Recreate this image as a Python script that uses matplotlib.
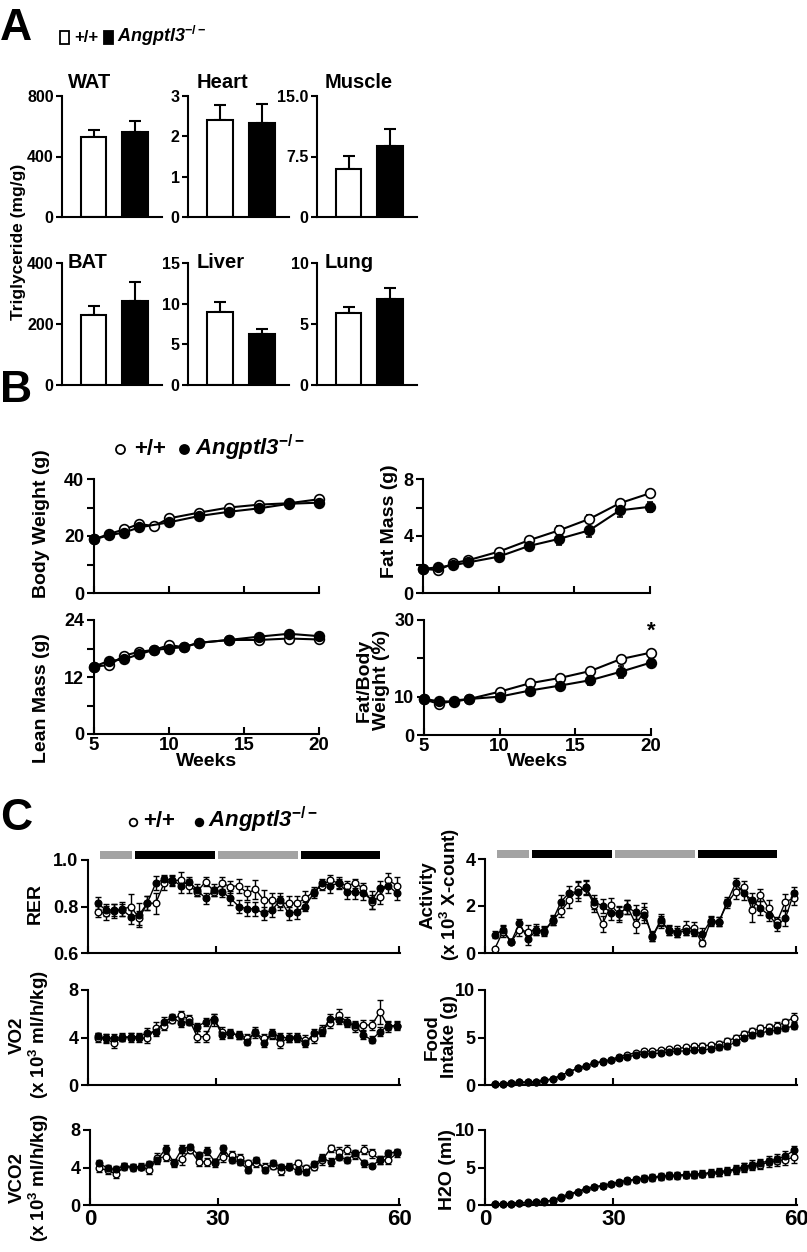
import matplotlib
matplotlib.use('Agg')
import matplotlib.pyplot as plt
from matplotlib.lines import Line2D
from matplotlib.patches import Rectangle
import numpy as np

plt.rcParams['font.family'] = ['Liberation Sans', 'DejaVu Sans']
plt.rcParams['font.weight'] = 'bold'
plt.rcParams['mathtext.fontset'] = 'custom'
plt.rcParams['mathtext.rm'] = 'Liberation Sans:bold'
plt.rcParams['mathtext.it'] = 'Liberation Sans:italic:bold'
plt.rcParams['mathtext.bf'] = 'Liberation Sans:bold'
plt.rcParams['axes.linewidth'] = 1.5

# ---------------- panel A : tissue triglyceride ----------------
tissues = ['WAT', 'Heart', 'Muscle', 'BAT', 'Liver', 'Lung']
tg_wt = [530, 2.40, 5.95, 230, 8.95, 5.9]
tg_wt_err = [45, 0.38, 1.6, 30, 1.3, 0.5]
tg_ko = [560, 2.33, 8.8, 277, 6.25, 7.05]
tg_ko_err = [73, 0.48, 2.1, 62, 0.6, 0.9]
tg_ymax = [800, 3, 15.0, 400, 15, 10]
tg_ticks = [[0, 400, 800], [0, 1, 2, 3], [0, 7.5, 15.0], [0, 200, 400], [0, 5, 10, 15], [0, 5, 10]]
tg_ticklabels = [['0', '400', '800'], ['0', '1', '2', '3'], ['0', '7.5', '15.0'],
                 ['0', '200', '400'], ['0', '5', '10', '15'], ['0', '5', '10']]

# ---------------- panel B : growth curves ----------------
bw_wk_wt = [5, 6, 7, 8, 9, 10, 12, 14, 16, 18, 20]
bw_wt = [18.8, 20.7, 22.3, 24.2, 23.5, 26.2, 28.2, 30.0, 31.0, 31.5, 32.9]
bw_wk_ko = [5, 6, 7, 8, 10, 12, 14, 16, 18, 20]
bw_ko = [18.8, 20.3, 21.2, 23.0, 24.8, 27.0, 28.5, 29.7, 31.3, 31.7]

lean_wk = [5, 6, 7, 8, 9, 10, 11, 12, 14, 16, 18, 20]
lean_wt = [14.2, 14.5, 16.5, 17.3, 17.7, 18.7, 18.3, 19.2, 19.8, 19.8, 20.1, 19.9]
lean_ko = [14.2, 15.4, 15.7, 16.8, 17.7, 18.0, 18.3, 19.2, 19.8, 20.5, 21.1, 20.6]

fat_wk = [5, 6, 7, 8, 10, 12, 14, 16, 18, 20]
fat_wt = [1.7, 1.6, 2.1, 2.3, 2.9, 3.7, 4.4, 5.2, 6.3, 7.0]
fat_wt_err = [0.05, 0.1, 0.1, 0.1, 0.1, 0.15, 0.3, 0.3, 0.2, 0.2]
fat_ko = [1.7, 1.8, 1.95, 2.15, 2.55, 3.3, 3.8, 4.4, 5.8, 6.05]
fat_ko_err = [0.05, 0.1, 0.1, 0.1, 0.15, 0.3, 0.45, 0.5, 0.45, 0.35]

pct_wt = [9.3, 8.1, 9.0, 9.4, 11.3, 13.5, 14.9, 16.7, 19.8, 21.5]
pct_wt_err = [0.2, 0.3, 0.3, 0.3, 0.4, 0.4, 0.6, 0.6, 0.4, 0.4]
pct_ko = [9.4, 8.8, 8.7, 9.4, 10.0, 11.6, 12.9, 14.3, 16.5, 18.9]
pct_ko_err = [0.3, 0.3, 0.3, 0.3, 0.4, 0.7, 0.8, 1.2, 1.5, 0.8]

# ---------------- panel C : metabolic cages ----------------
rer_wt = [0.778, 0.771, 0.78, 0.788, 0.80, 0.75, 0.814, 0.814, 0.90, 0.91, 0.914, 0.89, 0.864,
          0.907, 0.864, 0.90, 0.885, 0.89, 0.857, 0.874, 0.828, 0.828, 0.814, 0.814, 0.814,
          0.835, 0.864, 0.89, 0.914, 0.90, 0.89, 0.90, 0.878, 0.82, 0.842, 0.914, 0.89]
rer_wt_err = [0.025, 0.03, 0.03, 0.03, 0.055, 0.03, 0.03, 0.045, 0.03, 0.02, 0.035, 0.03, 0.02,
              0.02, 0.02, 0.025, 0.025, 0.03, 0.03, 0.04, 0.045, 0.03, 0.03, 0.03, 0.03, 0.03,
              0.02, 0.02, 0.02, 0.02, 0.02, 0.02, 0.025, 0.03, 0.03, 0.03, 0.035]
rer_ko = [0.814, 0.785, 0.785, 0.785, 0.756, 0.763, 0.816, 0.90, 0.917, 0.914, 0.89, 0.907, 0.87,
          0.835, 0.87, 0.864, 0.835, 0.80, 0.79, 0.79, 0.77, 0.785, 0.828, 0.77, 0.778, 0.80,
          0.857, 0.90, 0.89, 0.90, 0.864, 0.864, 0.857, 0.828, 0.878, 0.89, 0.857]
rer_ko_err = [0.025, 0.025, 0.025, 0.025, 0.03, 0.05, 0.03, 0.03, 0.02, 0.02, 0.03, 0.02, 0.025,
              0.025, 0.025, 0.025, 0.03, 0.03, 0.03, 0.03, 0.03, 0.03, 0.03, 0.03, 0.03, 0.02,
              0.02, 0.02, 0.03, 0.025, 0.03, 0.03, 0.03, 0.04, 0.03, 0.03, 0.03]

act_wt = [0.16, 0.91, 0.48, 0.98, 0.91, 1.0, 0.91, 1.38, 1.79, 2.25, 2.71, 2.75, 2.04, 1.23,
          2.04, 1.64, 1.97, 1.23, 1.76, 0.69, 1.33, 0.98, 0.91, 1.05, 1.05, 0.41, 1.33, 1.33,
          2.11, 2.61, 2.82, 1.83, 2.47, 1.90, 1.33, 2.18, 2.33]
act_wt_err = [0.05, 0.25, 0.1, 0.25, 0.3, 0.25, 0.2, 0.2, 0.25, 0.35, 0.35, 0.3, 0.3, 0.35,
              0.3, 0.3, 0.3, 0.4, 0.35, 0.2, 0.25, 0.2, 0.25, 0.3, 0.25, 0.1, 0.2, 0.2, 0.2,
              0.3, 0.25, 0.5, 0.25, 0.35, 0.2, 0.35, 0.3]
act_ko = [0.77, 0.98, 0.48, 1.26, 0.58, 0.95, 0.95, 1.40, 2.18, 2.57, 2.61, 2.79, 2.18, 2.0,
          1.72, 1.69, 1.94, 1.73, 1.62, 0.72, 1.40, 0.95, 0.86, 0.95, 0.91, 0.81, 1.38, 1.33,
          2.18, 2.96, 2.54, 2.25, 1.90, 1.62, 1.19, 1.47, 2.54]
act_ko_err = [0.15, 0.2, 0.1, 0.2, 0.25, 0.2, 0.2, 0.2, 0.3, 0.3, 0.4, 0.3, 0.3, 0.3, 0.3, 0.3,
              0.3, 0.3, 0.35, 0.2, 0.25, 0.2, 0.2, 0.2, 0.2, 0.25, 0.2, 0.2, 0.2, 0.25, 0.3,
              0.3, 0.3, 0.25, 0.25, 0.3, 0.25]

vo2_wt = [4.0, 3.93, 3.5, 4.05, 4.0, 3.93, 3.93, 4.8, 5.0, 5.5, 5.9, 5.53, 4.07, 4.07, 5.5, 4.5,
          4.35, 4.2, 3.93, 4.35, 3.93, 4.2, 3.5, 4.0, 4.07, 3.8, 3.93, 4.63, 5.2, 5.9, 5.33, 4.9,
          5.05, 5.05, 6.17, 4.9, 5.0]
vo2_wt_err = [0.35, 0.4, 0.4, 0.35, 0.35, 0.35, 0.4, 0.5, 0.4, 0.3, 0.35, 0.35, 0.45, 0.45, 0.5,
              0.4, 0.35, 0.35, 0.4, 0.4, 0.35, 0.35, 0.4, 0.35, 0.35, 0.4, 0.4, 0.45, 0.4, 0.5,
              0.4, 0.4, 0.4, 0.4, 1.0, 0.4, 0.4]
vo2_ko = [4.1, 3.93, 3.93, 4.0, 4.07, 4.07, 4.4, 4.5, 5.33, 5.7, 5.25, 5.33, 4.9, 5.33, 5.6, 4.2,
          4.35, 4.2, 3.65, 4.5, 3.5, 4.35, 4.07, 3.93, 3.93, 3.5, 4.35, 4.5, 5.6, 5.47, 5.2,
          5.05, 4.2, 3.8, 4.5, 5.0, 5.0]
vo2_ko_err = [0.3, 0.35, 0.35, 0.3, 0.3, 0.3, 0.4, 0.4, 0.4, 0.3, 0.4, 0.3, 0.35, 0.35, 0.35,
              0.35, 0.3, 0.3, 0.3, 0.35, 0.3, 0.35, 0.3, 0.3, 0.3, 0.3, 0.35, 0.4, 0.4, 0.35,
              0.3, 0.3, 0.35, 0.3, 0.4, 0.35, 0.3]

food_wt = [0.1, 0.15, 0.2, 0.3, 0.3, 0.35, 0.5, 0.65, 1.0, 1.4, 1.75, 2.0, 2.3, 2.5, 2.65, 3.0,
           3.2, 3.4, 3.55, 3.6, 3.7, 3.8, 3.85, 3.95, 4.1, 4.15, 4.2, 4.35, 4.6, 5.0, 5.4, 5.7,
           5.95, 6.1, 6.25, 6.6, 7.1]
food_wt_err = [0.02, 0.03, 0.04, 0.05, 0.05, 0.05, 0.06, 0.08, 0.1, 0.1, 0.12, 0.12, 0.15, 0.15,
               0.15, 0.18, 0.2, 0.2, 0.2, 0.2, 0.22, 0.22, 0.22, 0.25, 0.25, 0.25, 0.25, 0.28,
               0.3, 0.3, 0.3, 0.32, 0.35, 0.35, 0.38, 0.4, 0.45]
food_ko = [0.1, 0.15, 0.2, 0.3, 0.3, 0.35, 0.5, 0.65, 1.0, 1.4, 1.75, 2.0, 2.3, 2.45, 2.6, 2.8,
           2.95, 3.15, 3.25, 3.3, 3.35, 3.5, 3.55, 3.6, 3.65, 3.7, 3.8, 3.95, 4.1, 4.5, 5.0,
           5.3, 5.5, 5.65, 5.8, 6.0, 6.2]
food_ko_err = [0.02, 0.03, 0.04, 0.05, 0.05, 0.05, 0.06, 0.08, 0.1, 0.1, 0.12, 0.12, 0.15, 0.15,
               0.15, 0.15, 0.18, 0.18, 0.2, 0.2, 0.2, 0.2, 0.22, 0.22, 0.22, 0.25, 0.25, 0.25,
               0.28, 0.3, 0.3, 0.3, 0.3, 0.32, 0.32, 0.35, 0.35]

h2o_wt = [0.1, 0.15, 0.2, 0.3, 0.3, 0.35, 0.45, 0.6, 0.9, 1.3, 1.7, 2.1, 2.4, 2.6, 2.8, 3.0, 3.2,
          3.4, 3.5, 3.65, 3.75, 3.85, 3.9, 4.0, 4.05, 4.15, 4.25, 4.35, 4.5, 4.7, 5.0, 5.2, 5.4,
          5.7, 5.9, 6.0, 6.4]
h2o_wt_err = [0.05, 0.05, 0.08, 0.1, 0.1, 0.1, 0.12, 0.15, 0.15, 0.2, 0.2, 0.25, 0.25, 0.3, 0.3,
              0.3, 0.35, 0.35, 0.35, 0.4, 0.4, 0.4, 0.4, 0.45, 0.45, 0.45, 0.45, 0.5, 0.5, 0.5,
              0.55, 0.55, 0.6, 0.6, 0.65, 0.7, 0.8]
h2o_ko = [0.1, 0.15, 0.2, 0.3, 0.35, 0.4, 0.5, 0.65, 1.1, 1.5, 1.8, 2.2, 2.4, 2.6, 2.8, 3.1, 3.3,
          3.45, 3.6, 3.75, 3.85, 3.95, 4.0, 4.05, 4.1, 4.2, 4.3, 4.4, 4.6, 4.8, 5.1, 5.4, 5.6,
          5.9, 6.1, 6.5, 7.3]
h2o_ko_err = [0.05, 0.05, 0.08, 0.1, 0.1, 0.1, 0.12, 0.15, 0.15, 0.2, 0.2, 0.25, 0.25, 0.3, 0.3,
              0.3, 0.35, 0.35, 0.35, 0.4, 0.4, 0.4, 0.4, 0.45, 0.45, 0.45, 0.45, 0.5, 0.5, 0.5,
              0.55, 0.55, 0.6, 0.6, 0.65, 0.7, 0.6]

vco2_wt = [3.9, 3.7, 3.3, 4.1, 4.0, 4.1, 3.7, 5.0, 5.15, 4.5, 4.9, 5.9, 4.6, 4.6, 4.5, 5.1, 5.3,
           5.0, 4.45, 4.45, 4.1, 4.15, 3.65, 4.1, 4.45, 3.9, 4.1, 4.8, 6.05, 5.7, 5.9, 5.3, 5.9,
           5.5, 4.8, 4.8, 5.5]
vco2_wt_err = [0.4, 0.4, 0.4, 0.35, 0.35, 0.35, 0.4, 0.5, 0.5, 0.4, 0.6, 0.4, 0.4, 0.45, 0.4,
               0.5, 0.45, 0.4, 0.4, 0.4, 0.35, 0.35, 0.4, 0.35, 0.4, 0.4, 0.4, 0.5, 0.4, 0.45,
               0.45, 0.4, 0.45, 0.45, 0.45, 0.4, 0.4]
vco2_ko = [4.45, 3.9, 3.8, 4.2, 4.1, 4.1, 4.35, 4.8, 6.0, 4.5, 6.0, 6.2, 5.3, 5.75, 4.6, 6.05,
           4.8, 4.6, 3.75, 4.8, 3.75, 4.45, 4.1, 4.1, 3.65, 3.55, 4.35, 5.0, 4.6, 5.15, 4.8,
           5.5, 4.45, 4.2, 4.8, 5.5, 5.7]
vco2_ko_err = [0.35, 0.35, 0.35, 0.3, 0.3, 0.3, 0.35, 0.4, 0.4, 0.35, 0.4, 0.35, 0.35, 0.4,
               0.35, 0.4, 0.35, 0.35, 0.3, 0.35, 0.3, 0.35, 0.3, 0.3, 0.3, 0.3, 0.35, 0.4, 0.4,
               0.35, 0.35, 0.35, 0.35, 0.3, 0.4, 0.35, 0.3]

# light / dark bars above RER and Activity (in sample units)
phase_start = [0.3, 4.5, 14.5, 24.5]
phase_end = [4.1, 14.1, 24.1, 34.0]
phase_color = ['#a3a3a3', 'black', '#a3a3a3', 'black']
c_tick_pos = [-1.15, 14.3, 36.3]
c_tick_lab = ['0', '30', '60']

W, H = 807, 1252
fig = plt.figure(figsize=(W / 100, H / 100), dpi=100)


def px_axes(x0, y0, x1, y1):
    return fig.add_axes([x0 / W, 1 - y1 / H, (x1 - x0) / W, (y1 - y0) / H])


def ftext(x, y, s, **kw):
    return fig.text(x / W, 1 - y / H, s, **kw)


def fmarker(x, y, face, size):
    fig.add_artist(Line2D([x / W], [1 - y / H], marker='o', ms=size, mfc=face, mec='black',
                          mew=1.3, ls='none', transform=fig.transFigure))


def unclip(cont):
    for art in cont.get_children():
        art.set_clip_on(False)


# ---- A ----
ftext(0, 28, 'A', fontsize=32, va='center', ha='left')
fig.add_artist(Rectangle((60 / W, 1 - 44 / H), 9 / W, 13 / H, transform=fig.transFigure,
                         fc='white', ec='black', lw=1.3))
fig.add_artist(Rectangle((104 / W, 1 - 44 / H), 9 / W, 13 / H, transform=fig.transFigure,
                         fc='black', ec='black', lw=1.3))
ftext(74, 42, '+/+', fontsize=12, va='baseline')
ftext(117, 42, 'Angptl3$^{-/-}$', fontsize=13, style='italic', va='baseline')

a_boxes = [(62, 96, 162, 217), (188, 96, 289, 217), (317, 96, 417, 217),
           (62, 263, 162, 385), (188, 263, 289, 385), (317, 263, 417, 385)]
a_title_off = [14, 14, 14, 1, 1, 1]
a_title_x = [0.06, 0.09, 0.08, 0.06, 0.09, 0.08]
for k in range(6):
    ax = px_axes(*a_boxes[k])
    ax.bar([0, 1], [tg_wt[k], tg_ko[k]], width=0.61, color=['white', 'black'],
           edgecolor='black', linewidth=1.5, zorder=2)
    ax.errorbar([0, 1], [tg_wt[k], tg_ko[k]], yerr=[[0, 0], [tg_wt_err[k], tg_ko_err[k]]],
                fmt='none', ecolor='black', elinewidth=1.5, capsize=4.5, capthick=1.5, zorder=1)
    ax.set_xlim(-0.76, 1.65)
    ax.set_ylim(0, tg_ymax[k])
    ax.spines[['top', 'right']].set_visible(False)
    ax.set_xticks([])
    ax.set_yticks(tg_ticks[k])
    ax.set_yticklabels(tg_ticklabels[k], fontsize=11.5)
    ax.tick_params(axis='y', direction='out', length=4, width=1.5, pad=2)
    h = a_boxes[k][3] - a_boxes[k][1]
    ax.text(a_title_x[k], 1 + a_title_off[k] / h, tissues[k], transform=ax.transAxes,
            ha='left', va='center', fontsize=14.5)
ftext(19, 242, 'Triglyceride (mg/g)', rotation=90, ha='center', va='center', fontsize=12.5)

# ---- B ----
ftext(0, 391, 'B', fontsize=32, va='center', ha='left')
fmarker(120, 449, 'white', 6.5)
ftext(134, 455, '+/+', fontsize=16, va='baseline')
fmarker(184, 449, 'black', 6.5)
ftext(195, 455, 'Angptl3$^{-/-}$', fontsize=16, style='italic', va='baseline')


def b_panel(box, xw, yw, xk, yk, ew, ek, ymax, yticks, ylabs, bottom):
    ax = px_axes(*box)
    for xx, yy, ee, face in ((xw, yw, ew, 'white'), (xk, yk, ek, 'black')):
        c = ax.errorbar(xx, yy, yerr=ee, fmt='-o', color='black', mfc=face, mec='black',
                        ms=7, mew=1.2, lw=1.5, elinewidth=1.3, capsize=2.5, capthick=1.3)
        unclip(c)
    ax.set_xlim(5, 20)
    ax.set_ylim(0, ymax)
    ax.spines[['top', 'right']].set_visible(False)
    ax.set_yticks(yticks)
    ax.set_yticklabels(ylabs, fontsize=13)
    ax.set_xticks([5, 10, 15, 20])
    if bottom:
        ax.set_xticklabels(['5', '10', '15', '20'], fontsize=13.5)
    else:
        ax.set_xticklabels([])
    ax.tick_params(axis='y', direction='out', length=5, width=1.5, pad=2)
    ax.tick_params(axis='x', direction='in', length=5, width=1.5, pad=2)
    return ax


b_panel((94, 479, 319, 593), bw_wk_wt, bw_wt, bw_wk_ko, bw_ko, None, None, 40,
        [0, 10, 20, 30, 40], ['0', '', '20', '', '40'], False)
b_panel((94, 620, 319, 734), lean_wk, lean_wt, lean_wk, lean_ko, None, None, 24,
        [0, 6, 12, 18, 24], ['0', '', '12', '', '24'], True)
b_panel((423, 479, 650, 593), fat_wk, fat_wt, fat_wk, fat_ko, fat_wt_err, fat_ko_err, 8,
        [0, 2, 4, 6, 8], ['0', '', '4', '', '8'], False)
axp = b_panel((424, 620, 651, 735), fat_wk, pct_wt, fat_wk, pct_ko, pct_wt_err, pct_ko_err, 30,
              [0, 10, 20, 30], ['0', '10', '', '30'], True)
axp.text(fat_wk[-1], 27.0, '*', ha='center', va='center', fontsize=16, clip_on=False)

ftext(42, 524, 'Body Weight (g)', rotation=90, ha='center', va='center', fontsize=14)
ftext(42, 698, 'Lean Mass (g)', rotation=90, ha='center', va='center', fontsize=14)
ftext(389, 521, 'Fat Mass (g)', rotation=90, ha='center', va='center', fontsize=14)
ftext(373, 680, 'Fat/Body\nWeight (%)', rotation=90, ha='center', va='center', fontsize=14,
      linespacing=1.0)
ftext(207, 762, 'Weeks', ha='center', va='center', fontsize=14)
ftext(538, 762, 'Weeks', ha='center', va='center', fontsize=14)

# ---- C ----
ftext(0, 819, 'C', fontsize=32, va='center', ha='left')
fmarker(133, 822, 'white', 5.5)
ftext(143, 827, '+/+', fontsize=16, va='baseline')
fmarker(199, 822, 'black', 5.5)
ftext(208, 827, 'Angptl3$^{-/-}$', fontsize=16, style='italic', va='baseline')


def c_panel(box, yw, ew, yk, ek, ylim, yticks, ylabs, bottom, bars):
    ax = px_axes(*box)
    idx = np.arange(len(yw))
    for yy, ee, face in ((yw, ew, 'white'), (yk, ek, 'black')):
        c = ax.errorbar(idx, yy, yerr=ee, fmt='-o', color='black', mfc=face, mec='black',
                        ms=4.8, mew=1.0, lw=1.0, elinewidth=1.0, capsize=2.2, capthick=1.0)
        unclip(c)
    ax.set_xlim(c_tick_pos[0], c_tick_pos[-1] + 0.1)
    ax.set_ylim(*ylim)
    ax.spines[['top', 'right']].set_visible(False)
    ax.set_yticks(yticks)
    ax.set_yticklabels(ylabs, fontsize=13)
    ax.set_xticks(c_tick_pos)
    if bottom:
        ax.set_xticklabels(c_tick_lab, fontsize=16)
    else:
        ax.set_xticklabels([])
    ax.tick_params(axis='y', direction='out', length=5, width=1.5, pad=2)
    ax.tick_params(axis='x', direction='in', length=5, width=1.5, pad=3)
    if bars:
        tr = ax.get_xaxis_transform()
        for s, e, col in zip(phase_start, phase_end, phase_color):
            ax.add_patch(Rectangle((s, 1.01), e - s, 0.085, transform=tr, fc=col, ec='none',
                                   clip_on=False))
    return ax


c_panel((88, 860, 400, 953), rer_wt, rer_wt_err, rer_ko, rer_ko_err, (0.6, 1.0),
        [0.6, 0.8, 1.0], ['0.6', '0.8', '1.0'], False, True)
c_panel((485, 859, 797, 953), act_wt, act_wt_err, act_ko, act_ko_err, (0, 4),
        [0, 2, 4], ['0', '2', '4'], False, True)
c_panel((88, 990, 400, 1085), vo2_wt, vo2_wt_err, vo2_ko, vo2_ko_err, (0, 8),
        [0, 4, 8], ['0', '4', '8'], False, False)
c_panel((485, 990, 797, 1085), food_wt, food_wt_err, food_ko, food_ko_err, (0, 10),
        [0, 5, 10], ['0', '5', '10'], False, False)
c_panel((90, 1130, 400, 1205), vco2_wt, vco2_wt_err, vco2_ko, vco2_ko_err, (0, 8),
        [0, 4, 8], ['0', '4', '8'], True, False)
c_panel((485, 1130, 797, 1205), h2o_wt, h2o_wt_err, h2o_ko, h2o_ko_err, (0, 10),
        [0, 5, 10], ['0', '5', '10'], True, False)

ftext(35, 903, 'RER', rotation=90, ha='center', va='center', fontsize=14)
ftext(30, 1035, 'VO2\n(x 10$^3$ ml/h/kg)', rotation=90, ha='center', va='center',
      fontsize=13.5, linespacing=1.1)
ftext(30, 1178, 'VCO2\n(x 10$^3$ ml/h/kg)', rotation=90, ha='center', va='center',
      fontsize=13.5, linespacing=1.1)
ftext(441, 895, 'Activity\n(x 10$^3$ X-count)', rotation=90, ha='center', va='center',
      fontsize=13.5, linespacing=1.1)
ftext(441, 1037, 'Food\nIntake (g)', rotation=90, ha='center', va='center',
      fontsize=13.5, linespacing=1.0)
ftext(447, 1170, 'H2O (ml)', rotation=90, ha='center', va='center', fontsize=14)

fig.savefig('out.png', dpi=100)
